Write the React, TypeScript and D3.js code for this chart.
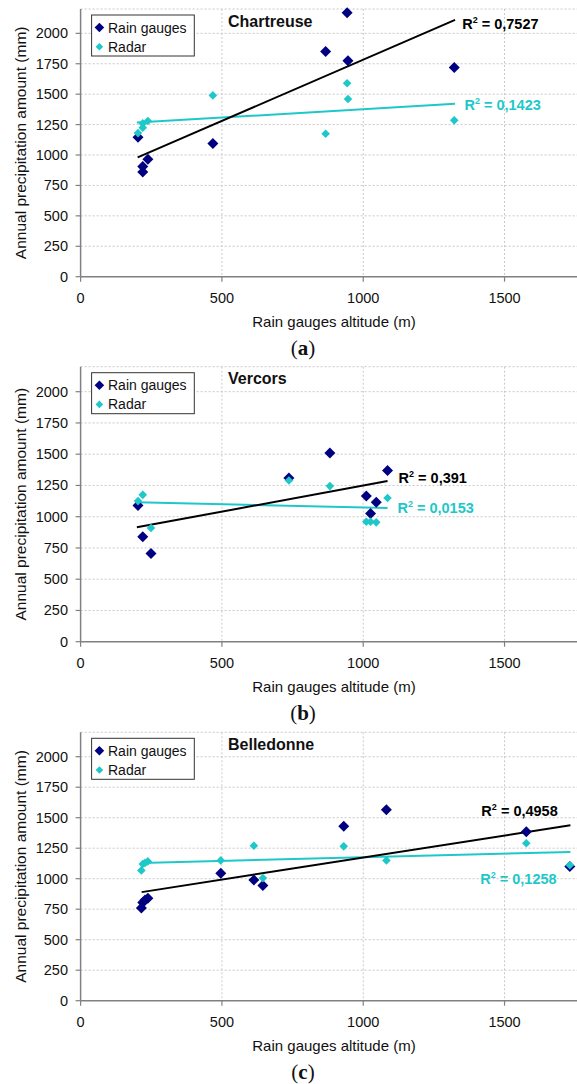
import React from "react";
import * as d3 from "d3";

// ---------- data ----------
const panelNames = ["Chartreuse", "Vercors", "Belledonne"];
const panelCaptions = ["a", "b", "c"];

const chartreuseAltitude = [203, 220, 220, 238, 468, 867, 943, 946, 1322];
const chartreuseGauges = [1145, 905, 860, 965, 1095, 1850, 2170, 1775, 1720];
const chartreuseRadar = [1180, 1225, 1260, 1280, 1490, 1175, 1590, 1460, 1285];

const vercorsAltitude = [203, 220, 249, 737, 882, 1011, 1026, 1046, 1086];
const vercorsGauges = [1090, 840, 705, 1310, 1510, 1165, 1025, 1115, 1370];
const vercorsRadar = [1125, 1175, 910, 1290, 1245, 960, 960, 955, 1150];

const belledonneAltitude = [215, 220, 228, 238, 496, 613, 645, 931, 1082, 1577, 1731];
const belledonneGauges = [760, 805, 825, 840, 1045, 990, 945, 1430, 1565, 1385, 1100];
const belledonneRadar = [1068, 1120, 1130, 1142, 1150, 1270, 1005, 1265, 1150, 1290, 1110];

// trend lines: [altitude, value] at start and end
const trendGauges = [
  [[202, 981], [1325, 2110]],
  [[199, 915], [1086, 1285]],
  [[216, 890], [1733, 1438]],
];
const trendRadar = [
  [[199, 1267], [1325, 1421]],
  [[199, 1115], [1086, 1069]],
  [[216, 1129], [1733, 1219]],
];
const r2Gauges = ["0,7527", "0,391", "0,4958"];
const r2Radar = ["0,1423", "0,0153", "0,1258"];

const xTicks = [0, 500, 1000, 1500];
const yTicks = [0, 250, 500, 750, 1000, 1250, 1500, 1750, 2000];

const legendLabels = ["Rain gauges", "Radar"];
const xTitle = "Rain gauges altitude (m)";
const yTitle = "Annual precipitation amount (mm)";

// ---------- layout ----------
const W = 577;
const H = 1084;
const FONT = "Arial, 'Liberation Sans', sans-serif";
const NAVY = "#000080";
const CYAN = "#1ec8c8";
const GRID = "#c8c8c8";
const AXIS = "#808080";

const panelTops = [9.0, 366.7, 732.3];
const panelBottoms = [276.7, 641.7, 1000.7];
// R2 label anchors in data units [altitude, value]
const r2GaugePos = [[1350, 2039], [1125, 1267], [1418, 1514]];
const r2RadarPos = [[1358, 1374], [1121, 1027], [1414, 957]];

const series = [
  { alt: chartreuseAltitude, g: chartreuseGauges, r: chartreuseRadar },
  { alt: vercorsAltitude, g: vercorsGauges, r: vercorsRadar },
  { alt: belledonneAltitude, g: belledonneGauges, r: belledonneRadar },
];

const diamond = (cx: number, cy: number, s: number) =>
  `M${cx},${cy - s}L${cx + s},${cy}L${cx},${cy + s}L${cx - s},${cy}Z`;

function Panel({ i }: { i: number }) {
  const top = panelTops[i];
  const bottom = panelBottoms[i];
  const x = d3.scaleLinear().domain([0, 1750]).range([80.6, 575.2]);
  const y = d3.scaleLinear().domain([0, 2200]).range([bottom, top]);
  const line = d3
    .line<number[]>()
    .x((d) => x(d[0]))
    .y((d) => y(d[1]));
  const s = series[i];
  const x0 = x(0);
  const gridRight = W + 2;

  const R2 = ({ pos, txt, color }: { pos: number[]; txt: string; color: string }) => (
    <text x={x(pos[0])} y={y(pos[1])} fontFamily={FONT} fontWeight="bold" fontSize={14.5} fill={color}>
      R
      <tspan fontSize={9} dy={-6}>2</tspan>
      <tspan dy={6}>{" = " + txt}</tspan>
    </text>
  );

  return (
    <g>
      {/* grid */}
      {yTicks.filter((t) => t > 0).map((t) => (
        <line key={"gy" + t} x1={x0} x2={gridRight} y1={y(t)} y2={y(t)} stroke={GRID} strokeWidth={1} strokeDasharray="2,2" />
      ))}
      <line x1={x0} x2={gridRight} y1={top} y2={top} stroke={GRID} strokeWidth={1} strokeDasharray="2,2" />
      {xTicks.filter((t) => t > 0).map((t) => (
        <line key={"gx" + t} x1={x(t)} x2={x(t)} y1={top} y2={bottom} stroke={GRID} strokeWidth={1} strokeDasharray="2,2" />
      ))}
      {/* axes */}
      <line x1={x0} x2={x0} y1={top} y2={bottom} stroke={AXIS} strokeWidth={1.5} />
      <line x1={x0} x2={gridRight} y1={bottom} y2={bottom} stroke={AXIS} strokeWidth={1.5} />
      {yTicks.map((t) => (
        <g key={"yt" + t}>
          <line x1={x0 - 5} x2={x0} y1={y(t)} y2={y(t)} stroke={AXIS} strokeWidth={1.2} />
          <text x={68} y={y(t) + 5} textAnchor="end" fontFamily={FONT} fontSize={14.5} fill="#111">
            {t}
          </text>
        </g>
      ))}
      {xTicks.map((t) => (
        <g key={"xt" + t}>
          <line x1={x(t)} x2={x(t)} y1={bottom} y2={bottom + 5} stroke={AXIS} strokeWidth={1.2} />
          <text x={x(t)} y={bottom + 26} textAnchor="middle" fontFamily={FONT} fontSize={14.5} fill="#111">
            {t}
          </text>
        </g>
      ))}
      <text x={334} y={bottom + 50} textAnchor="middle" fontFamily={FONT} fontSize={15} fill="#111">
        {xTitle}
      </text>
      <text
        transform={`translate(26,${(top + bottom) / 2}) rotate(-90)`}
        textAnchor="middle"
        fontFamily={FONT}
        fontSize={15.5}
        fill="#111"
      >
        {yTitle}
      </text>
      {/* trend lines */}
      <path d={line(trendRadar[i] as number[][]) || ""} stroke={CYAN} strokeWidth={2} fill="none" />
      <path d={line(trendGauges[i] as number[][]) || ""} stroke="#000" strokeWidth={2} fill="none" />
      {/* points */}
      {s.alt.map((a, k) => (
        <path key={"g" + k} d={diamond(x(a), y(s.g[k]), 5.5)} fill={NAVY} />
      ))}
      {s.alt.map((a, k) => (
        <path key={"r" + k} d={diamond(x(a), y(s.r[k]), 4.3)} fill={CYAN} />
      ))}
      {/* R2 labels */}
      <R2 pos={r2GaugePos[i]} txt={r2Gauges[i]} color="#000" />
      <R2 pos={r2RadarPos[i]} txt={r2Radar[i]} color={CYAN} />
      {/* legend */}
      <rect x={91.6} y={top + 6} width={102.7} height={41} fill="#fff" stroke="#333" strokeWidth={1} />
      <path d={diamond(99.4, top + 18.5, 4.8)} fill={NAVY} />
      <text x={108} y={top + 23.5} fontFamily={FONT} fontSize={14} fill="#111">
        {legendLabels[0]}
      </text>
      <path d={diamond(99.4, top + 37.7, 3.8)} fill={CYAN} />
      <text x={108} y={top + 42.7} fontFamily={FONT} fontSize={14} fill="#111">
        {legendLabels[1]}
      </text>
      {/* title */}
      <text x={228} y={top + 17.7} fontFamily={FONT} fontWeight="bold" fontSize={16} fill="#111">
        {panelNames[i]}
      </text>
      {/* caption */}
      <text x={303} y={bottom + 78} textAnchor="middle" fontFamily="'Liberation Serif', 'DejaVu Serif', serif" fontSize={21} fill="#111">
        (<tspan fontWeight="bold">{panelCaptions[i]}</tspan>)
      </text>
    </g>
  );
}

export default function App() {
  return (
    <svg
      width={W}
      height={H}
      viewBox={`0 0 ${W} ${H}`}
      style={{ position: "absolute", left: 0, top: 0, background: "#fff" }}
    >
      <rect width={W} height={H} fill="#fff" />
      {[0, 1, 2].map((i) => (
        <Panel key={i} i={i} />
      ))}
    </svg>
  );
}
